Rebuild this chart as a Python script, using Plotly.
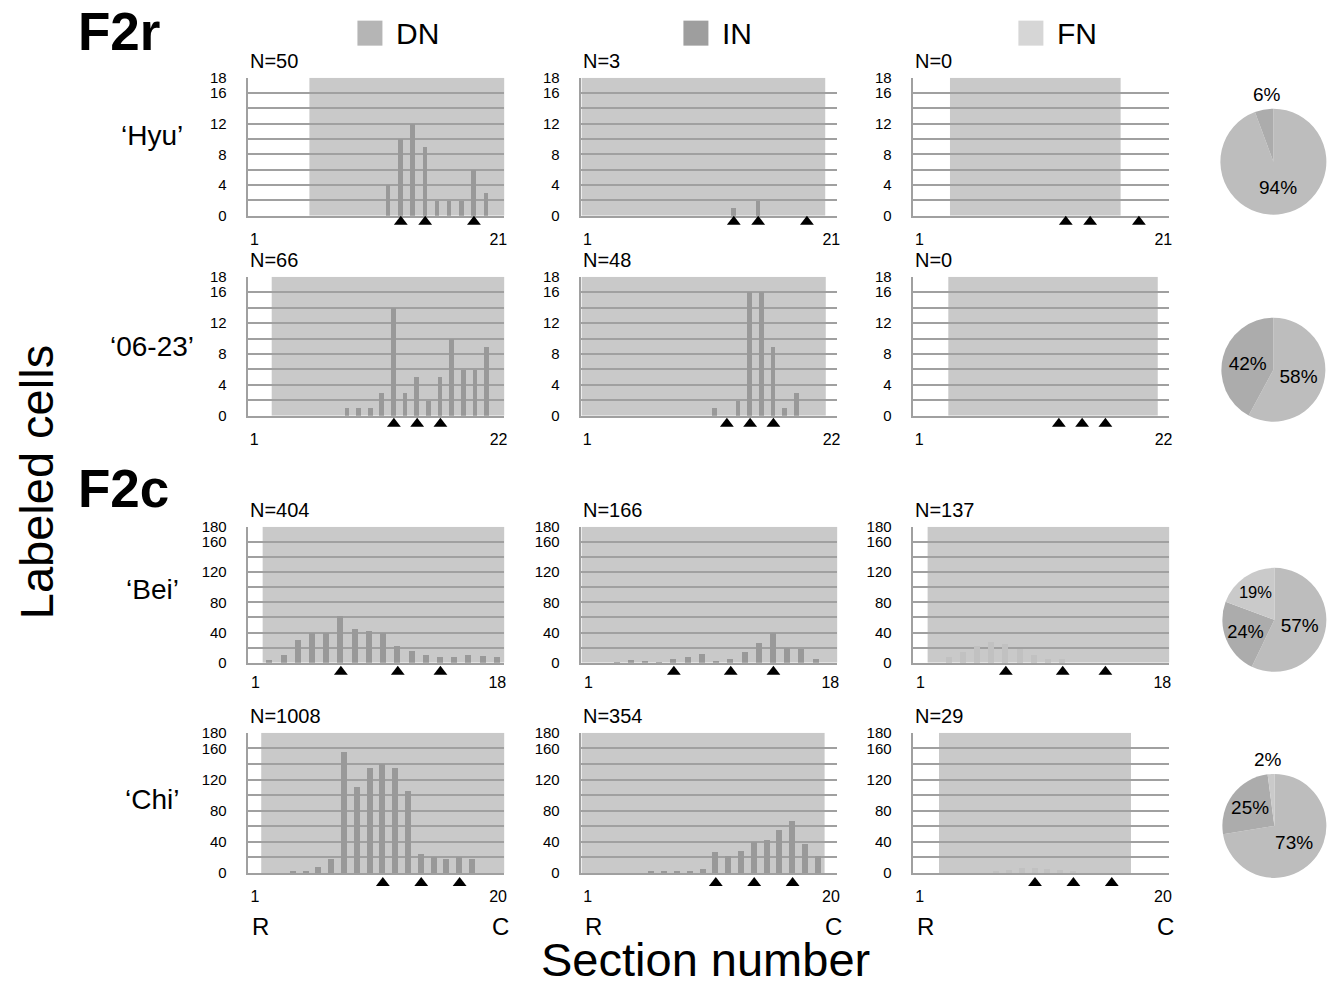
import plotly.graph_objects as go

W, H = 1332, 983

# ---------------- data ----------------
row_names = ["‘Hyu’", "‘06-23’", "‘Bei’", "‘Chi’"]
nucleus_names = ["DN", "IN", "FN"]
section_counts = [21, 22, 18, 20]

hyu_dn = [0, 0, 0, 0, 0, 0, 0, 0, 0, 0, 0, 4, 10, 12, 9, 2, 2, 2, 6, 3, 0]
hyu_in = [0, 0, 0, 0, 0, 0, 0, 0, 0, 0, 0, 0, 1, 0, 2, 0, 0, 0, 0, 0, 0]
hyu_fn = [0] * 21

l0623_dn = [0, 0, 0, 0, 0, 0, 0, 0, 1, 1, 1, 3, 14, 3, 5, 2, 5, 10, 6, 6, 9, 0]
l0623_in = [0, 0, 0, 0, 0, 0, 0, 0, 0, 0, 0, 1, 0, 2, 16, 16, 9, 1, 3, 0, 0, 0]
l0623_fn = [0] * 22

bei_dn = [0, 4, 10, 30, 40, 40, 62, 45, 42, 40, 22, 16, 10, 8, 8, 10, 9, 8]
bei_in = [0, 0, 1, 4, 3, 2, 5, 8, 12, 3, 5, 14, 26, 40, 20, 18, 5, 0]
bei_fn = [0, 0, 8, 15, 22, 28, 25, 18, 10, 6, 5, 0, 0, 0, 0, 0, 0, 0]

chi_dn = [0, 0, 0, 2, 3, 8, 18, 155, 110, 135, 140, 135, 105, 25, 20, 18, 20, 18, 0, 0]
chi_in = [0, 0, 0, 0, 0, 2, 2, 3, 2, 5, 27, 22, 28, 40, 42, 55, 67, 37, 22, 0]
chi_fn = [0, 0, 0, 0, 0, 0, 2, 4, 6, 6, 5, 4, 2, 0, 0, 0, 0, 0, 0, 0]

counts = [
    [hyu_dn, hyu_in, hyu_fn],
    [l0623_dn, l0623_in, l0623_fn],
    [bei_dn, bei_in, bei_fn],
    [chi_dn, chi_in, chi_fn],
]

n_totals = [[50, 3, 0], [66, 48, 0], [404, 166, 137], [1008, 354, 29]]
pie_pct = [[94, 6, 0], [58, 42, 0], [57, 24, 19], [73, 25, 2]]

# extent (in section units) of each nucleus, shaded in the panels
nucleus_extent = [
    [(5.5, 21.5), (0.5, 20.5), (3.5, 17.5)],
    [(2.5, 22.5), (0.5, 21.5), (3.5, 21.5)],
    [(1.5, 18.5), (0.5, 18.5), (1.5, 18.5)],
    [(1.5, 20.5), (0.5, 19.5), (2.5, 17.5)],
]

# landmark sections (triangles)
landmarks = [
    [[13, 15, 19], [13, 15, 19], [13, 15, 19]],
    [[13, 15, 17], [13, 15, 17], [13, 15, 17]],
    [[7, 11, 14], [7, 11, 14], [7, 11, 14]],
    [[11, 14, 17], [11, 14, 17], [10, 13, 16]],
]

y_max = [18, 18, 180, 180]
y_tickvals_small = [0, 2, 4, 6, 8, 10, 12, 14, 16, 18]
y_ticktext_small = ["0", "", "4", "", "8", "", "12", "", "16", "18"]
y_tickvals_big = [0, 20, 40, 60, 80, 100, 120, 140, 160, 180]
y_ticktext_big = ["0", "", "40", "", "80", "", "120", "", "160", "180"]
y_ticks = [(y_tickvals_small, y_ticktext_small), (y_tickvals_small, y_ticktext_small),
           (y_tickvals_big, y_ticktext_big), (y_tickvals_big, y_ticktext_big)]

# ---------------- style ----------------
FONT = "Liberation Sans, Arial, sans-serif"
SHADE = "#c9c9c9"
GRID = "#a0a0a0"
BAR = "#999999"
BAR_FN = "#c1c1c1"
LEG_COLORS = {"DN": "#b5b5b5", "IN": "#9e9e9e", "FN": "#d6d6d6"}
PIE_COLORS = {"DN": "#bdbdbd", "IN": "#acacac", "FN": "#cacaca"}

# page-pixel helpers (small correction for how the page is photographed)
def PX(x):
    return ((x + 0.45) / 0.9978) / W


def PY(y):
    return 1 - ((y - 9.37) / 0.9824) / H


col_px = [(248, 504), (581, 837), (913, 1169)]
row_px = [(78, 216), (277, 416), (527, 663), (733, 873)]
row_label_y = [136, 347, 590, 800]
tri_off_px = [6, 8, 9, 10]
x_label_standoff = [8, 8, 4, 8]
bar_width = [0.36, 0.4, 0.42, 0.48]

fig = go.Figure()
layout_axes = {}
shapes = []
annotations = []

for r in range(4):
    top, bot = row_px[r]
    n = section_counts[r]
    sections = list(range(1, n + 1))
    ymax = y_max[r]
    tv, tt = y_ticks[r]
    for c in range(3):
        k = r * 3 + c + 1
        s = "" if k == 1 else str(k)
        st = str(12 + k)  # helper axis for landmark triangles
        left, right = col_px[c]
        layout_axes["xaxis" + s] = dict(
            domain=[PX(left), PX(right)], anchor="y" + s,
            range=[0.5, n + 0.5], tickmode="array", tickvals=[1, n],
            ticktext=["1", str(n)], showgrid=False, zeroline=False,
            showline=True, linecolor=GRID, linewidth=1.5, ticks="",
            ticklabelstandoff=x_label_standoff[r],
            tickfont=dict(family=FONT, size=16, color="black"),
            fixedrange=True,
        )
        layout_axes["yaxis" + s] = dict(
            domain=[PY(bot), PY(top)], anchor="x" + s,
            range=[0, ymax], tickmode="array", tickvals=tv, ticktext=tt,
            showgrid=True, gridcolor=GRID, gridwidth=1.5, zeroline=False,
            showline=True, linecolor=GRID, linewidth=1.5, ticks="",
            ticklabelstandoff=17,
            tickfont=dict(family=FONT, size=15, color="black"),
            fixedrange=True,
        )
        off = tri_off_px[r]
        layout_axes["yaxis" + st] = dict(
            domain=[PY(bot + 2 * off), PY(bot)], anchor="x" + s,
            range=[0, 1], visible=False, fixedrange=True,
        )
        x0, x1 = nucleus_extent[r][c]
        shapes.append(dict(type="rect", xref="x" + s, yref="y" + s,
                           x0=x0, x1=x1, y0=0, y1=ymax,
                           fillcolor=SHADE, line_width=0, layer="below"))
        fig.add_trace(go.Bar(
            x=sections, y=counts[r][c], xaxis="x" + s, yaxis="y" + s,
            marker=dict(color=BAR_FN if c == 2 else BAR, line_width=0),
            width=bar_width[r], showlegend=False, hoverinfo="skip"))
        fig.add_trace(go.Scatter(
            x=landmarks[r][c], y=[0.5] * len(landmarks[r][c]),
            xaxis="x" + s, yaxis="y" + st, mode="markers",
            marker=dict(symbol="triangle-up", size=12, color="black"),
            cliponaxis=False, showlegend=False, hoverinfo="skip"))
        annotations.append(dict(
            x=PX(left), y=PY(top - 17), xref="paper", yref="paper",
            xanchor="left", yanchor="middle", showarrow=False,
            text="N=%d" % n_totals[r][c],
            font=dict(family=FONT, size=20, color="black")))

    # row label
    annotations.append(dict(
        x=PX(152), y=PY(row_label_y[r]), xref="paper", yref="paper",
        xanchor="center", yanchor="middle", showarrow=False, text=row_names[r],
        font=dict(family=FONT, size=28, color="black")))

    # pie
    pie_box = [(1220, 1326, 109, 215), (1221, 1325, 318, 422),
               (1222, 1326, 568, 672), (1222, 1326, 774, 878)][r]
    inner = ["%d%%" % p if p >= 10 else "" for p in pie_pct[r]]
    fig.add_trace(go.Pie(
        values=n_totals[r], labels=nucleus_names, text=inner, textinfo="text",
        textposition="inside", insidetextorientation="horizontal",
        sort=False, direction="clockwise", rotation=0,
        marker=dict(colors=[PIE_COLORS[nm] for nm in nucleus_names], line=dict(width=0)),
        textfont=dict(family=FONT, size=19, color="black"),
        domain=dict(x=[PX(pie_box[0]), PX(pie_box[1])],
                    y=[PY(pie_box[3]), PY(pie_box[2])]),
        showlegend=False, hoverinfo="skip"))
    small = [p for p in pie_pct[r] if 0 < p < 10]
    if small:
        annotations.append(dict(
            x=PX((pie_box[0] + pie_box[1]) / 2 - 6), y=PY(pie_box[2] - 14),
            xref="paper", yref="paper", xanchor="center", yanchor="middle",
            showarrow=False, text="%d%%" % small[0],
            font=dict(family=FONT, size=19, color="black")))

# R / C under bottom row
for c in range(3):
    left, right = col_px[c]
    for xx, t in ((left + 12, "R"), (right - 4, "C")):
        annotations.append(dict(x=PX(xx), y=PY(927), xref="paper", yref="paper",
                                xanchor="center", yanchor="middle", showarrow=False,
                                text=t, font=dict(family=FONT, size=24, color="black")))

# panel group titles
for t, yy in (("F2r", 32), ("F2c", 489)):
    annotations.append(dict(x=PX(76), y=PY(yy), xref="paper", yref="paper",
                            xanchor="left", yanchor="middle", showarrow=False,
                            text="<b>%s</b>" % t, font=dict(family=FONT, size=53, color="black")))

# legend (squares + labels)
leg_x = {"DN": 357, "IN": 683, "FN": 1018}
for nm in nucleus_names:
    x0 = leg_x[nm]
    shapes.append(dict(type="rect", xref="paper", yref="paper",
                       x0=PX(x0), x1=PX(x0 + 25), y0=PY(46), y1=PY(21),
                       fillcolor=LEG_COLORS[nm], line_width=0))
    annotations.append(dict(x=PX(x0 + 37), y=PY(34), xref="paper", yref="paper",
                            xanchor="left", yanchor="middle", showarrow=False, text=nm,
                            font=dict(family=FONT, size=30, color="black")))

# global axis titles
annotations.append(dict(x=PX(36), y=PY(482), xref="paper", yref="paper",
                        xanchor="center", yanchor="middle", showarrow=False,
                        text="Labeled cells", textangle=-90,
                        font=dict(family=FONT, size=47, color="black")))
annotations.append(dict(x=PX(705), y=PY(960), xref="paper", yref="paper",
                        xanchor="center", yanchor="middle", showarrow=False,
                        text="Section number",
                        font=dict(family=FONT, size=47, color="black")))

fig.update_layout(
    width=W, height=H, margin=dict(l=0, r=0, t=0, b=0),
    paper_bgcolor="white", plot_bgcolor="white",
    font=dict(family=FONT, color="black"),
    bargap=0, shapes=shapes, annotations=annotations, showlegend=False,
    **layout_axes,
)

fig.write_html("out.html")
